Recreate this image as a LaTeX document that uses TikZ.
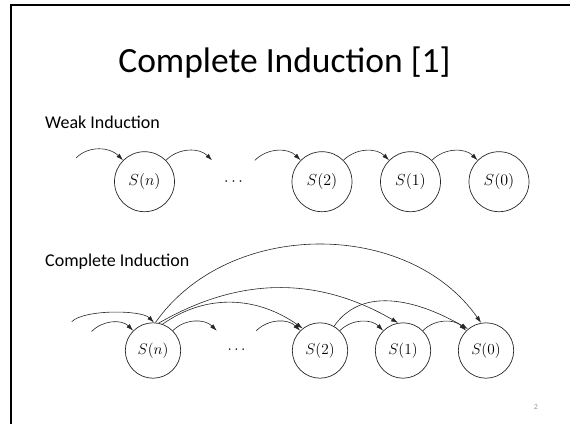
\RequirePackage{fix-cm}
\documentclass[tikz,border=0pt]{standalone}
\usepackage[no-math]{fontspec}
\setmainfont{Carlito}
\usetikzlibrary{arrows.meta}
\begin{document}
\begin{tikzpicture}[x=1pt,y=1pt,
  state/.style={circle,draw=black!85,line width=0.7pt,inner sep=0pt,
    minimum size=60pt,font=\fontsize{16}{16}\selectfont},
  stateb/.style={state,minimum size=55.4pt,font=\fontsize{15.3}{15.3}\selectfont},
  gap/.style={circle,inner sep=0pt,minimum size=60pt,font=\fontsize{16}{16}\selectfont},
  gapb/.style={gap,minimum size=55.4pt,font=\fontsize{15.3}{15.3}\selectfont},
  arc/.style={-{Latex[length=7pt,width=4.5pt]},line width=0.6pt,draw=black!85},
  hop/.style={arc,out=45,in=135},
  lbl/.style={anchor=base west,inner sep=0pt,font=\fontsize{18}{18}\selectfont}]
\useasboundingbox (0,0) rectangle (570,424);

% slide frame
\draw[line width=2pt] (11,0) -- (11,419) -- (570,419);

% headings
\node[anchor=base,inner sep=0pt,font=\fontsize{35.5}{35.5}\selectfont] (title) at (284.5,352) {Complete Induction [1]};
\node[lbl] (weak) at (45,296) {Weak Induction};
\node[lbl] (comp) at (45,158) {Complete Induction};
\node[font=\fontsize{8}{8}\selectfont,text=black!40] (pg) at (536,17) {2};

% weak induction chain
\node[state] (wn) at (144.5,242.3) {$S(n)$};
\node[gap]   (wd) at (233.5,242.3) {$\cdots$};
\node[state] (w2) at (322,242.3) {$S(2)$};
\node[state] (w1) at (410.5,242.3) {$S(1)$};
\node[state] (w0) at (499,242.3) {$S(0)$};
\coordinate (win) at (76,266);

\draw[hop] (win) to (wn.135);
\draw[hop] (wn.45) to (wd.135);
\draw[hop] (wd.45) to (w2.135);
\draw[hop] (w2.45) to (w1.135);
\draw[hop] (w1.45) to (w0.135);

% complete induction chain
\node[stateb] (cn) at (153,73.5) {$S(n)$};
\node[gapb]   (cd) at (236.5,73.5) {$\cdots$};
\node[stateb] (c2) at (320,73.5) {$S(2)$};
\node[stateb] (c1) at (403,73.5) {$S(1)$};
\node[stateb] (c0) at (486,73.5) {$S(0)$};
\coordinate (cinA) at (91.5,92.5);
\coordinate (cinB) at (71.7,102.3);

\draw[hop] (cinA) to (cn.135);
\draw[hop,looseness=0.55] (cinB) to (cn.88);
\draw[hop] (cn.45) to (cd.135);
\draw[hop] (cd.45) to (c2.135);
\draw[hop] (c2.45) to (c1.135);
\draw[hop] (c1.45) to (c0.135);
\draw[arc] (c2.60) to[out=55,in=150] (c0.130);
\draw[arc] (cn.85) to[out=55,in=125] (c0.100);
\draw[arc] (cn.78) to[out=30,in=150] (c1.100);
\draw[arc] (cn.70) to[out=35,in=145] (c2.128);
\end{tikzpicture}
\end{document}
